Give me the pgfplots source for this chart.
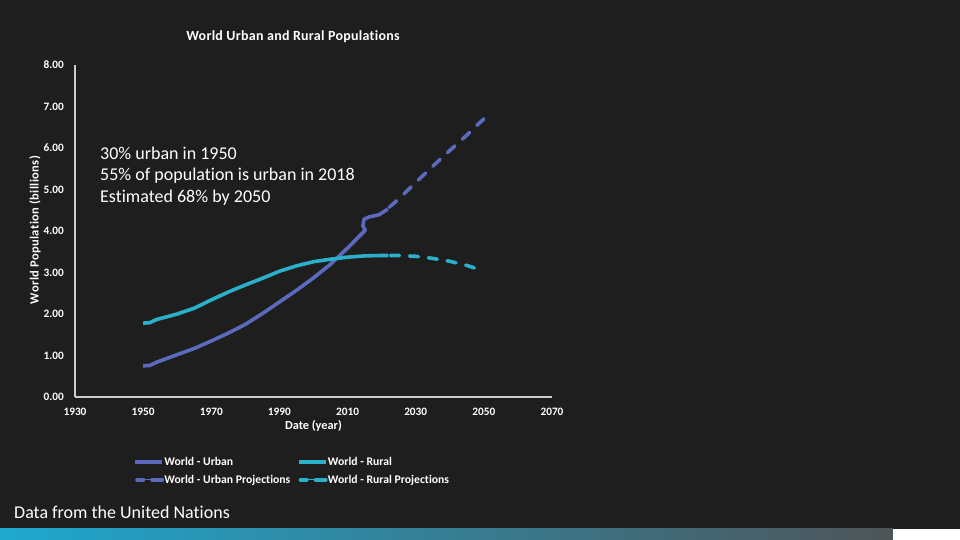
\documentclass[border=0pt]{standalone}
\usepackage{fontspec}
\setmainfont[Ligatures={TeX,NoCommon}]{Carlito}
\usepackage{pgfplots}
\pgfplotsset{compat=1.18}
\definecolor{bg}{RGB}{30,30,30}
\definecolor{urban}{RGB}{91,106,188}
\definecolor{rural}{RGB}{42,176,202}
\definecolor{axisgray}{RGB}{205,205,205}
\definecolor{barL}{RGB}{30,168,208}
\definecolor{barR}{RGB}{78,84,88}
\begin{document}
\begin{tikzpicture}[x=1pt,y=1pt]
\fill[bg] (0,0) rectangle (960,540);
\shade[left color=barL, right color=barR] (0,0) rectangle (893,11);
\fill[white] (893,0) rectangle (960,11);
\begin{axis}[
  at={(75pt,143pt)}, anchor=south west,
  scale only axis, width=477pt, height=332pt,
  xmin=1930, xmax=2070, ymin=0, ymax=8,
  xtick={1930,1950,...,2070}, ytick={0,1,...,8},
  axis lines=left, axis line style={-, draw=axisgray, line width=1.2pt},
  major tick length=0pt,
  /pgf/number format/assume math mode=true,
  tick label style={text=white, font=\bfseries\fontsize{11.3}{13}\selectfont},
  xticklabel style={anchor=base, yshift=-19pt, /pgf/number format/1000 sep={}},
  yticklabel style={anchor=east, inner sep=0pt, xshift=-11pt,
    /pgf/number format/.cd, fixed, fixed zerofill, precision=2},
  title={World Urban and Rural Populations},
  title style={at={(axis description cs:0.457,1.0551)}, anchor=base, text=white,
    font=\bfseries\fontsize{14}{16}\selectfont\addfontfeature{LetterSpace=2}},
  xlabel={Date (year)},
  every axis x label/.style={at={(axis description cs:0.5,-0.0994)}, anchor=base,
    text=white, font=\bfseries\fontsize{12.3}{14}\selectfont},
  ylabel={World Population (billions)},
  every axis y label/.style={at={(axis description cs:-0.084,0.503)}, anchor=center, rotate=90,
    text=white, font=\bfseries\fontsize{12.5}{14}\selectfont\addfontfeature{LetterSpace=3}},
  legend columns=2,
  legend cell align=left,
  legend style={at={(0.1153,-0.175)}, anchor=north west, draw=none, fill=none,
    text=white, font=\bfseries\fontsize{11.7}{14}\selectfont,
    nodes={inner sep=0.3pt}, row sep=7pt,
    /tikz/every even column/.append style={column sep=6pt}},
]
\addplot[urban, line width=3.6pt, line join=round,
  legend image code/.code={\draw[urban, line width=4pt] (0pt,0pt) -- (27pt,0pt);}]
  coordinates {
  (1950,0.75) (1952,0.76) (1954,0.84) (1955,0.87) (1960,1.02) (1965,1.17)
  (1970,1.35) (1975,1.54) (1980,1.75) (1985,2.01) (1990,2.29) (1995,2.57)
  (2000,2.87) (2005,3.20) (2010,3.59) (2015.2,4.02) (2014.5,4.12) (2014.8,4.28)
  (2016.3,4.34) (2019.2,4.39) (2020.7,4.47) (2021.8,4.53)
};
\addplot[rural, line width=3.6pt, line join=round,
  legend image code/.code={\draw[rural, line width=4pt] (0pt,0pt) -- (27pt,0pt);}]
  coordinates {
  (1950,1.78) (1952,1.79) (1954,1.87) (1955,1.89) (1960,2.00) (1965,2.14)
  (1970,2.34) (1975,2.53) (1980,2.70) (1985,2.86) (1990,3.03) (1995,3.16)
  (2000,3.26) (2005,3.32) (2008,3.35) (2010,3.37) (2015,3.40) (2020,3.41) (2022,3.41)
};
\addplot[urban, line width=3.6pt, dash pattern=on 10pt off 10pt, line cap=round,
  legend image code/.code={
    \draw[urban, line width=4pt, solid, line cap=round] (2pt,0pt) -- (8pt,0pt);
    \draw[urban, line width=1pt, solid] (9pt,0pt) -- (17pt,0pt);
    \draw[urban, line width=4pt, solid] (17pt,0pt) -- (27pt,0pt);}]
  coordinates {
  (2022.2,4.57) (2025,4.77) (2030,5.17) (2035,5.56) (2040,5.94) (2045,6.31) (2048,6.55) (2050,6.70)
};
\addplot[rural, line width=3.6pt, dash pattern=on 9pt off 10pt, line cap=round,
  legend image code/.code={
    \draw[rural, line width=4pt, solid, line cap=round] (2pt,0pt) -- (8pt,0pt);
    \draw[rural, line width=1pt, solid] (9pt,0pt) -- (17pt,0pt);
    \draw[rural, line width=4pt, solid] (17pt,0pt) -- (27pt,0pt);}]
  coordinates {
  (2022.6,3.41) (2025,3.41) (2030,3.39) (2035,3.34) (2040,3.27) (2045,3.17) (2048,3.09)
};
\legend{World - Urban, World - Rural, World - Urban Projections, World - Rural Projections}
\end{axis}
\node[anchor=base west, inner sep=0pt, text=white, font=\fontsize{18}{21}\selectfont] at (100,380.7) {30\% urban in 1950};
\node[anchor=base west, inner sep=0pt, text=white, font=\fontsize{18}{21}\selectfont] at (100,359.3) {55\% of population is urban in 2018};
\node[anchor=base west, inner sep=0pt, text=white, font=\fontsize{18}{21}\selectfont] at (100,337.7) {Estimated 68\% by 2050};
\node[anchor=base west, inner sep=0pt, text=white, font=\fontsize{18}{21}\selectfont] at (14,21.3) {Data from the United Nations};
\pgfresetboundingbox
\path[use as bounding box] (0,0) rectangle (960,540);
\end{tikzpicture}
\end{document}
